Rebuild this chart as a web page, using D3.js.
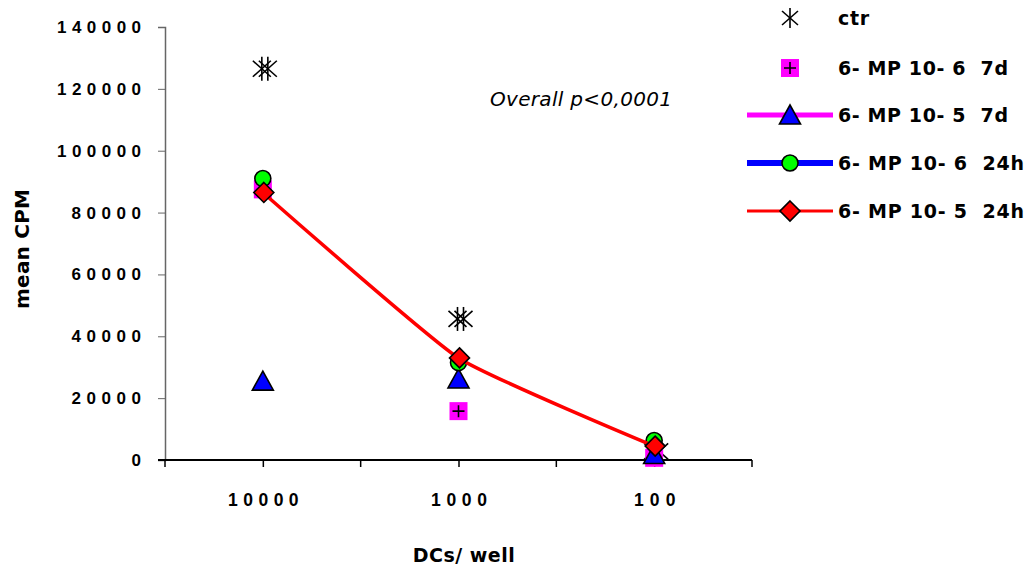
<!DOCTYPE html>
<html>
<head>
<meta charset="utf-8">
<script src="https://cdn.jsdelivr.net/npm/d3@7"></script>
<style>
  body { margin: 0; background: #fff; }
  svg { font-family: "DejaVu Sans", "Liberation Sans", Arial, sans-serif; }
</style>
</head>
<body>
<div id="chart"></div>
<script>
// data
const categories = ["10000", "1000", "100"];
const ctr = [126500, 45600, 2800];
const mp6_7d = [87500, 15800, 700];
const mp5_7d = [25500, 26200, 1800];
const mp6_24h = [91000, 31500, 6300];
const mp5_24h = [86500, 33000, 4500];
const yTicks = [0, 20000, 40000, 60000, 80000, 100000, 120000, 140000];

const W = 1033, H = 566;
const MARGIN_LEFT = 165, MARGIN_TOP = 27, PLOT_W = 587, PLOT_H = 433;
const CHAR_W = 14.5; // stretched look of the original labels

const svg = d3.select("#chart").append("svg").attr("width", W).attr("height", H);
const g = svg.append("g").attr("transform", `translate(${MARGIN_LEFT},${MARGIN_TOP})`);

const x = d3.scalePoint().domain(categories).range([0, PLOT_W]).padding(0.5);
const y = d3.scaleLinear().domain([0, 140000]).range([PLOT_H, 0]);
const step = x.step();

// y axis
const yAxis = g.append("g")
  .call(d3.axisLeft(y).tickValues(yTicks).tickFormat(d3.format("d")).tickSize(7).tickPadding(17));
yAxis.select(".domain").attr("stroke", "#666").attr("stroke-width", 1.5);
yAxis.selectAll(".tick line").attr("stroke", "#666");
yAxis.selectAll(".tick text")
  .attr("font-size", 17).attr("font-weight", "bold").attr("fill", "#000")
  .attr("lengthAdjust", "spacing")
  .attr("textLength", d => String(d).length * CHAR_W - 3);

// x axis
const xAxis = g.append("g").attr("transform", `translate(0,${PLOT_H})`)
  .call(d3.axisBottom(x).tickSize(7).tickPadding(27));
xAxis.select(".domain").attr("stroke", "#000").attr("stroke-width", 2).attr("d", `M-7,0H${PLOT_W}`);
xAxis.selectAll(".tick line").attr("stroke", "#000").attr("stroke-width", 1.5);
xAxis.selectAll(".tick text")
  .attr("font-size", 17.5).attr("font-weight", "bold").attr("fill", "#000")
  .attr("lengthAdjust", "spacing")
  .attr("textLength", d => d.length * CHAR_W - 2);
// boundary ticks between categories
g.append("g").selectAll("line")
  .data(d3.range(categories.length + 1))
  .join("line")
  .attr("x1", i => i * step).attr("x2", i => i * step)
  .attr("y1", PLOT_H).attr("y2", PLOT_H + 7)
  .attr("stroke", "#000").attr("stroke-width", 1.5);

// axis titles
svg.append("text")
  .attr("transform", "translate(29,249) rotate(-90)")
  .attr("text-anchor", "middle")
  .attr("font-weight", "bold").attr("font-size", 20)
  .attr("lengthAdjust", "spacing").attr("textLength", 120)
  .text("mean CPM");
svg.append("text")
  .attr("x", 464).attr("y", 562)
  .attr("text-anchor", "middle")
  .attr("font-weight", "bold").attr("font-size", 19).attr("letter-spacing", 0.5)
  .text("DCs/ well");

svg.append("text")
  .attr("x", 490).attr("y", 106)
  .attr("font-style", "italic").attr("font-size", 20)
  .attr("lengthAdjust", "spacing").attr("textLength", 182)
  .text("Overall p<0,0001");

// marker helpers
function asterisk(sel, cx, cy) {
  [-3, 3].forEach(o => {
    const s = sel.append("g").attr("transform", `translate(${cx + o},${cy})`)
      .attr("stroke", "#000").attr("stroke-width", 1.6);
    s.append("line").attr("x1", -9).attr("y1", -8).attr("x2", 9).attr("y2", 8);
    s.append("line").attr("x1", -9).attr("y1", 8).attr("x2", 9).attr("y2", -8);
    s.append("line").attr("x1", 0).attr("y1", -12).attr("x2", 0).attr("y2", 12);
  });
}
function plusSquare(sel, cx, cy) {
  sel.append("rect").attr("x", cx - 9).attr("y", cy - 9).attr("width", 18).attr("height", 18).attr("fill", "#ff00ff");
  sel.append("path").attr("d", `M${cx - 6},${cy}H${cx + 6}M${cx},${cy - 6}V${cy + 6}`).attr("stroke", "#000").attr("stroke-width", 1.6);
}
function triangle(sel, cx, cy) {
  sel.append("path").attr("d", `M${cx},${cy - 10}L${cx + 10.5},${cy + 9}L${cx - 10.5},${cy + 9}Z`)
    .attr("fill", "#0000ff").attr("stroke", "#000").attr("stroke-width", 1.6);
}
function circle(sel, cx, cy) {
  sel.append("circle").attr("cx", cx).attr("cy", cy).attr("r", 8)
    .attr("fill", "#00ff00").attr("stroke", "#000").attr("stroke-width", 1.6);
}
function diamond(sel, cx, cy) {
  sel.append("path").attr("d", `M${cx},${cy - 10}L${cx + 10},${cy}L${cx},${cy + 10}L${cx - 10},${cy}Z`)
    .attr("fill", "#ff0000").attr("stroke", "#000").attr("stroke-width", 1.6);
}

const marks = g.append("g");
categories.forEach((c, i) => asterisk(marks, x(c) + 2, y(ctr[i])));
categories.forEach((c, i) => plusSquare(marks, x(c), y(mp6_7d[i])));
categories.forEach((c, i) => triangle(marks, x(c), y(mp5_7d[i])));
categories.forEach((c, i) => circle(marks, x(c), y(mp6_24h[i])));

const line = d3.line().x((d, i) => x(categories[i])).y(d => y(d)).curve(d3.curveCardinal.tension(0.55));
marks.append("path").datum(mp5_24h).attr("d", line)
  .attr("fill", "none").attr("stroke", "#ff0000").attr("stroke-width", 3.5);
categories.forEach((c, i) => diamond(marks, x(c) + 1, y(mp5_24h[i])));

// legend
const legend = svg.append("g");
const legItems = [
  { name: "ctr", y: 18, line: null, draw: null, len: 31 },
  { name: "6- MP 10- 6  7d", y: 68, line: null, draw: plusSquare, len: 170 },
  { name: "6- MP 10- 5  7d", y: 115, line: "#ff00ff", draw: triangle, len: 170 },
  { name: "6- MP 10- 6  24h", y: 163, line: "#0000ff", draw: circle, len: 186 },
  { name: "6- MP 10- 5  24h", y: 211, line: "#ff0000", draw: diamond, len: 186 }
];
const legW = { "#ff00ff": 5, "#0000ff": 6, "#ff0000": 3 };
legItems.forEach(d => {
  if (d.line) {
    legend.append("line").attr("x1", 747).attr("x2", 833).attr("y1", d.y).attr("y2", d.y)
      .attr("stroke", d.line).attr("stroke-width", legW[d.line]);
  }
  if (!d.draw) {
    const s = legend.append("g").attr("transform", `translate(790,${d.y})`)
      .attr("stroke", "#000").attr("stroke-width", 1.6);
    s.append("line").attr("x1", -8).attr("y1", -7).attr("x2", 8).attr("y2", 7);
    s.append("line").attr("x1", -8).attr("y1", 7).attr("x2", 8).attr("y2", -7);
    s.append("line").attr("x1", 0).attr("y1", -10).attr("x2", 0).attr("y2", 10);
  } else {
    d.draw(legend, 790, d.y);
  }
  legend.append("text")
    .attr("x", 838).attr("y", d.y + 7)
    .attr("font-weight", "bold").attr("font-size", 19)
    .attr("lengthAdjust", "spacing").attr("textLength", d.len)
    .style("white-space", "pre")
    .text(d.name);
});
</script>
</body>
</html>
